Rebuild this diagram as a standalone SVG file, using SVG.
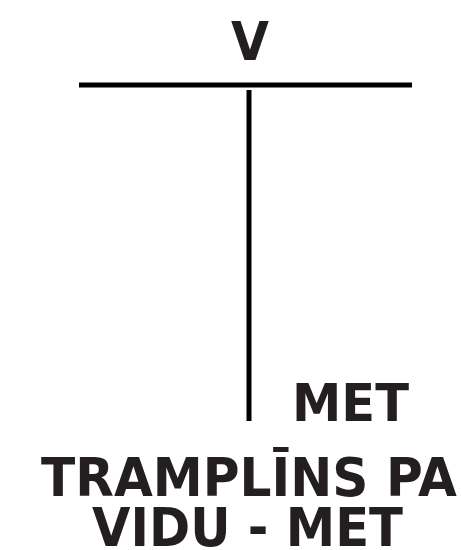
<svg xmlns="http://www.w3.org/2000/svg" width="461" height="550" viewBox="0 0 461 550">
<style>
.t{font-family:"DejaVu Sans","Liberation Sans",sans-serif;font-weight:bold;fill:#231f20}
.ln{stroke:#000;stroke-width:5;fill:none}
</style>
<rect width="461" height="550" fill="#fff"/>
<g id="connectors">
<line class="ln" x1="79" y1="85" x2="412" y2="85"/>
<line class="ln" x1="249" y1="90" x2="249" y2="421"/>
</g>
<g id="label-v"><text class="t" x="231" y="60" font-size="53" textLength="38" lengthAdjust="spacingAndGlyphs">V</text></g>
<g id="label-met"><text class="t" x="292" y="421" font-size="52" textLength="117" lengthAdjust="spacingAndGlyphs">MET</text></g>
<g id="title">
<text class="t" x="41" y="496" font-size="53" textLength="416" lengthAdjust="spacingAndGlyphs">TRAMPLĪNS PA</text>
<text class="t" x="92" y="546" font-size="53" textLength="311" lengthAdjust="spacingAndGlyphs">VIDU - MET</text>
</g>
</svg>
